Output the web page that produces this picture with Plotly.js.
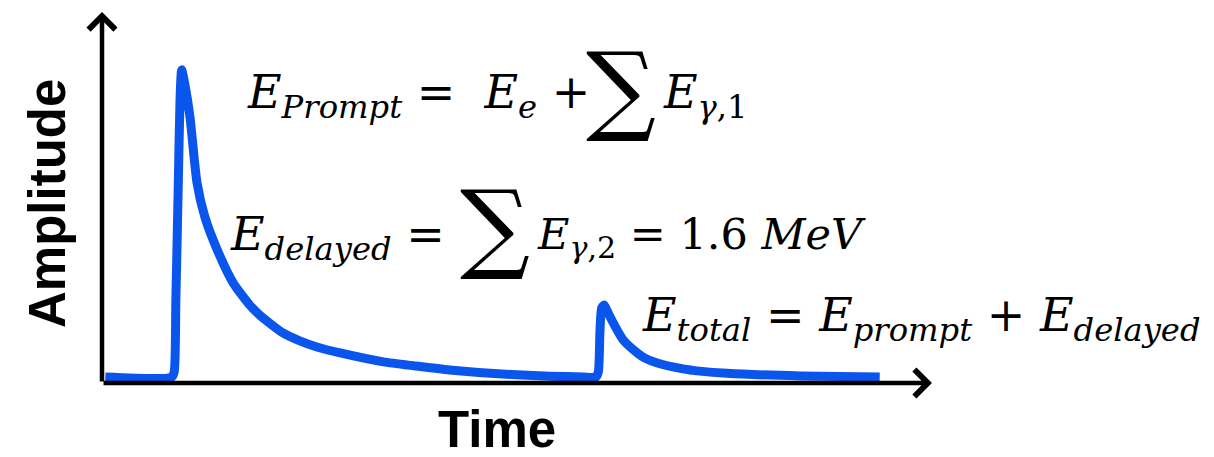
<!DOCTYPE html>
<html>
<head>
<meta charset="utf-8">
<script src="https://cdn.plot.ly/plotly-3.0.1.min.js"></script>
<style>
  html, body { margin: 0; padding: 0; background: #fff; }
  #chart { width: 1214px; height: 457px; }
</style>
</head>
<body>
<div id="chart"></div>
<script>
// pulse trace (time and amplitude in arbitrary units, 0-100)
var time = [0.4, 8.4, 8.7, 8.9, 9.2, 9.4, 9.6, 10.0, 10.6, 11.45, 12.4, 13.9, 15.8, 17.8, 19.0, 21.8, 23.9, 25.9, 28.7,
  33.9, 37.7, 41.9, 50.0, 58.0, 59.5, 59.8, 60.0, 60.2, 60.5, 60.8, 61.6, 62.8, 64.5, 65.4, 66.9, 70.0, 72.0, 75.3, 84.1, 93.7];
var amplitude = [1.6, 1.6, 3.0, 22.4, 54.7, 76.3, 84.4, 80.3, 71.7, 53.9, 44.7, 35.8, 27.0, 21.0, 18.3, 13.5, 11.3, 9.7, 8.1,
  5.7, 4.6, 3.5, 2.2, 1.6, 1.6, 3.0, 14.3, 20.2, 21.0, 19.7, 16.2, 11.6, 8.1, 6.7, 5.4, 3.8, 3.2, 2.6, 1.9, 1.6];

var xLabel = 'Time';
var yLabel = 'Amplitude';
var sumSign = '∑';
var eqLeft = [
  "<i>E</i><sub><i>Prompt</i></sub> =  <i>E</i><sub><i>e</i></sub> +",
  "<i>E</i><sub><i>delayed</i></sub> =",
  "<i>E</i><sub><i>total</i></sub> = <i>E</i><sub><i>prompt</i></sub> + <i>E</i><sub><i>delayed</i></sub>"
];
var eqRight = [
  "<i>E</i><sub><i>γ</i>,1</sub>",
  "<i>E</i><sub><i>γ</i>,2</sub> = 1.6 <i>MeV</i>"
];

// pixel -> paper helpers (plot area spans x 102..932, y 383..12)
function px(x) { return (x - 102) / 830; }
function py(y) { return (383 - y) / 371; }

var traces = [{
  x: time,
  y: amplitude,
  mode: 'lines',
  type: 'scatter',
  line: { color: '#0a55eb', width: 9, shape: 'spline', smoothing: 0.6 },
  hoverinfo: 'skip'
}];

var annotations = [];

// axis arrows
annotations.push({
  xref: 'paper', yref: 'paper', x: 1, y: 0, ax: -830, ay: 0,
  axref: 'pixel', ayref: 'pixel', text: '', showarrow: true,
  arrowhead: 4, arrowwidth: 4.5, arrowsize: 1.15, arrowcolor: '#000'
});
annotations.push({
  xref: 'paper', yref: 'paper', x: 0, y: 1, ax: 0, ay: 371,
  axref: 'pixel', ayref: 'pixel', text: '', showarrow: true,
  arrowhead: 4, arrowwidth: 4.5, arrowsize: 1.15, arrowcolor: '#000'
});

annotations.push({
  xref: 'paper', yref: 'paper', x: px(497), y: py(430), xanchor: 'center', yanchor: 'middle',
  text: xLabel, showarrow: false,
  font: { family: 'Liberation Sans, Arial, sans-serif', size: 51, color: '#000', weight: 'bold' }
});
annotations.push({
  xref: 'paper', yref: 'paper', x: px(48), y: py(204), xanchor: 'center', yanchor: 'middle',
  text: yLabel, showarrow: false, textangle: -90,
  font: { family: 'Liberation Sans, Arial, sans-serif', size: 51, color: '#000', weight: 'bold' }
});

var eqFont = { family: 'DejaVu Serif, serif', size: 46, color: '#000' };
var leftPos = [[245, 96], [228, 237], [640, 318]];
var rightPos = [[661, 96], [535, 237]];
var rightSize = [46, 43];
var sumPos = [[621, 88], [495, 226]];
for (var i = 0; i < eqLeft.length; i++) {
  annotations.push({
    xref: 'paper', yref: 'paper', x: px(leftPos[i][0]), y: py(leftPos[i][1]),
    xanchor: 'left', yanchor: 'middle', text: eqLeft[i], showarrow: false, font: eqFont
  });
}
for (var j = 0; j < eqRight.length; j++) {
  annotations.push({
    xref: 'paper', yref: 'paper', x: px(rightPos[j][0]), y: py(rightPos[j][1]),
    xanchor: 'left', yanchor: 'middle', text: eqRight[j], showarrow: false,
    font: { family: 'DejaVu Serif, serif', size: rightSize[j], color: '#000' }
  });
  annotations.push({
    xref: 'paper', yref: 'paper', x: px(sumPos[j][0]), y: py(sumPos[j][1]),
    xanchor: 'center', yanchor: 'middle', text: sumSign, showarrow: false,
    font: { family: 'DejaVu Serif, serif', size: 98, color: '#000' }
  });
}

var layout = {
  width: 1214,
  height: 457,
  margin: { l: 102, r: 282, t: 12, b: 74 },
  paper_bgcolor: '#fff',
  plot_bgcolor: '#fff',
  showlegend: false,
  xaxis: { range: [0, 100], showgrid: false, zeroline: false, showticklabels: false, showline: false, ticks: '' },
  yaxis: { range: [0, 100], showgrid: false, zeroline: false, showticklabels: false, showline: false, ticks: '' },
  annotations: annotations
};

Plotly.newPlot('chart', traces, layout, { displayModeBar: false, staticPlot: true });
</script>
</body>
</html>
